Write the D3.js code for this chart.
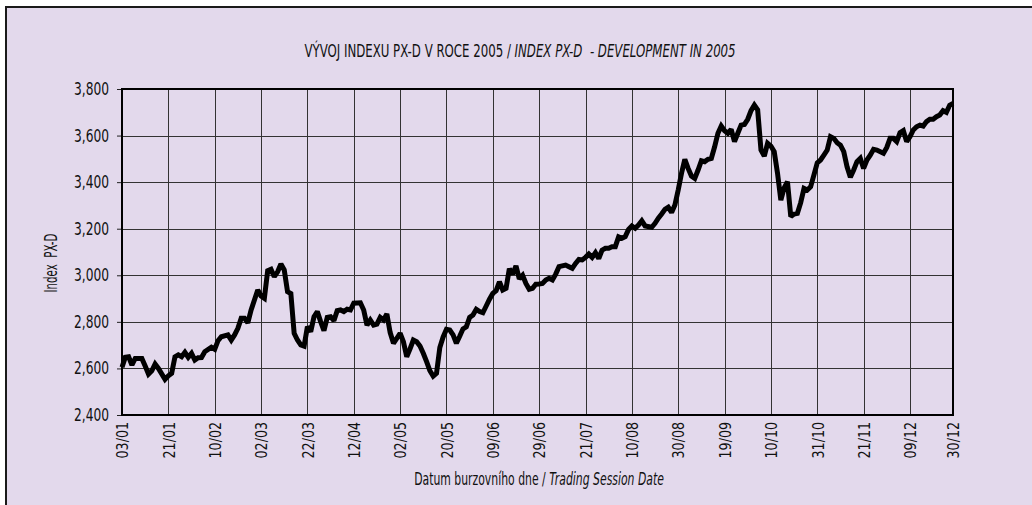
<!DOCTYPE html>
<html>
<head>
<meta charset="utf-8">
<script src="https://cdn.jsdelivr.net/npm/d3@7"></script>
<style>
  html, body { margin: 0; padding: 0; background: #fff; }
  svg text { font-family: "Liberation Sans Narrow", "DejaVu Sans Condensed", "Arial Narrow", sans-serif; fill: #111; }
</style>
</head>
<body>
<svg id="chart" width="1032" height="505"></svg>
<script>
// trading session index (0 = 03/01/2005) and the PX-D close
const sessions = [
  0, 1, 2, 3, 4, 6, 7, 8, 9, 10, 11, 13, 14, 15, 16, 17, 18, 19, 20, 21,
  22, 23, 24, 25, 27, 28, 29, 30, 32, 33, 34, 35, 36, 37, 38, 39, 41, 42, 43, 44,
  45, 46, 47, 48, 49, 50, 51, 52, 53, 54, 55, 56, 57, 58, 59, 60, 61, 62, 63, 64,
  65, 66, 67, 68, 69, 70, 72, 73, 74, 75, 76, 77, 78, 79, 80, 81, 82, 83, 84, 85,
  86, 87, 88, 89, 90, 91, 92, 93, 94, 95, 96, 97, 98, 99, 100, 101, 102, 103, 104, 105,
  106, 107, 108, 109, 110, 111, 112, 113, 114, 115, 116, 117, 118, 119, 120, 121, 122, 123, 124, 125,
  126, 127, 128, 129, 130, 131, 132, 134, 135, 136, 137, 138, 139, 140, 141, 142, 143, 144, 145, 146,
  147, 148, 149, 150, 151, 152, 153, 154, 155, 156, 157, 158, 160, 161, 162, 163, 164, 165, 166, 167,
  168, 169, 170, 171, 172, 173, 174, 175, 176, 177, 178, 179, 180, 181, 182, 183, 184, 185, 186, 187,
  188, 189, 190, 191, 192, 193, 194, 195, 196, 197, 198, 199, 200, 201, 202, 203, 204, 205, 206, 207,
  208, 209, 210, 211, 212, 213, 214, 215, 216, 217, 218, 219, 220, 221, 222, 223, 224, 225, 226, 227,
  228, 230, 231, 232, 233, 234, 235, 236, 237, 238, 239, 240, 241, 242, 243, 244, 245, 246, 247, 248,
  249, 250, 251
];
const pxd = [
  2605, 2648, 2650, 2615, 2643, 2643, 2610, 2576, 2590, 2619, 2600, 2553, 2568, 2579, 2650, 2658, 2650, 2669, 2648, 2665,
  2636, 2646, 2647, 2672, 2691, 2682, 2719, 2736, 2744, 2722, 2744, 2772, 2815, 2815, 2796, 2851, 2937, 2911, 2901, 3020,
  3026, 2994, 3015, 3048, 3023, 2930, 2922, 2751, 2722, 2701, 2696, 2779, 2758, 2822, 2844, 2801, 2762, 2819, 2822, 2805,
  2848, 2851, 2844, 2854, 2851, 2880, 2882, 2851, 2786, 2808, 2786, 2790, 2819, 2808, 2834, 2754, 2708, 2729, 2751, 2715,
  2650, 2684, 2722, 2715, 2696, 2665, 2629, 2590, 2567, 2579, 2690, 2735, 2768, 2765, 2744, 2708, 2738, 2770, 2779, 2819,
  2829, 2854, 2844, 2839, 2868, 2897, 2922, 2934, 2972, 2937, 2944, 3028, 3005, 3040, 2985, 3000, 2965, 2940, 2944, 2962,
  2963, 2965, 2980, 2987, 2980, 3005, 3037, 3044, 3037, 3030, 3051, 3068, 3066, 3077, 3091, 3077, 3097, 3072, 3108, 3116,
  3116, 3123, 3123, 3165, 3159, 3166, 3197, 3212, 3202, 3216, 3234, 3212, 3206, 3223, 3245, 3263, 3283, 3292, 3270, 3302,
  3366, 3438, 3498, 3459, 3426, 3416, 3452, 3492, 3488, 3498, 3502, 3552, 3610, 3641, 3621, 3610, 3627, 3574, 3610, 3645,
  3648, 3670, 3707, 3731, 3710, 3538, 3512, 3567, 3555, 3531, 3438, 3323, 3375, 3402, 3252, 3263, 3266, 3312, 3373, 3366,
  3380, 3431, 3483, 3495, 3516, 3538, 3595, 3588, 3569, 3559, 3531, 3466, 3421, 3452, 3488, 3502, 3459, 3495, 3516, 3541,
  3538, 3524, 3549, 3588, 3588, 3574, 3612, 3621, 3574, 3595, 3624, 3638, 3645, 3641, 3660, 3670, 3670, 3681, 3688, 3707,
  3700, 3730, 3738
];

const tickSessions = [0, 14, 28, 42, 56, 70, 84, 98, 112, 126, 140, 154, 168, 182, 196, 210, 224, 238, 251];
const tickLabels = ["03/01", "21/01", "10/02", "02/03", "22/03", "12/04", "02/05", "20/05", "09/06", "29/06",
  "21/07", "10/08", "30/08", "19/09", "10/10", "31/10", "21/11", "09/12", "30/12"];
const yTicks = [2400, 2600, 2800, 3000, 3200, 3400, 3600, 3800];

const data = sessions.map((s, i) => ({ s: s, v: pxd[i] }));

const svg = d3.select("#chart");
const bg = "#e3d9ec";

const plotL = 122, plotR = 953, plotT = 89, plotB = 415;
const squeeze = 0.8; // the original type is a condensed face

// outer frame
svg.append("rect")
  .attr("x", 6).attr("y", 7)
  .attr("width", 1040).attr("height", 520)
  .attr("fill", bg)
  .attr("stroke", "#1a1a1a")
  .attr("stroke-width", 2);

const x = d3.scaleLinear().domain([0, 251]).range([plotL, plotR]);
const y = d3.scaleLinear().domain([2400, 3800]).range([plotB, plotT]);

// grid
svg.append("g")
  .selectAll("line")
  .data(yTicks.slice(1, -1))
  .join("line")
  .attr("x1", plotL).attr("x2", plotR)
  .attr("y1", d => Math.round(y(d)) + 0.5).attr("y2", d => Math.round(y(d)) + 0.5)
  .attr("stroke", "#333").attr("stroke-width", 1);

svg.append("g")
  .selectAll("line")
  .data(tickSessions.slice(1, -1))
  .join("line")
  .attr("x1", d => Math.round(x(d)) + 0.5).attr("x2", d => Math.round(x(d)) + 0.5)
  .attr("y1", plotT).attr("y2", plotB)
  .attr("stroke", "#333").attr("stroke-width", 1);

// y axis
const yAxis = d3.axisLeft(y)
  .tickValues(yTicks)
  .tickFormat(d3.format(","))
  .tickSize(5);

const gy = svg.append("g").attr("transform", `translate(${plotL},0)`).call(yAxis);
gy.select(".domain").remove();
gy.selectAll("line").attr("stroke", "#222");
gy.selectAll("text")
  .style("font-size", "17px")
  .attr("fill", "#111")
  .attr("x", -13 / squeeze)
  .attr("transform", `scale(${squeeze},1)`);

// x axis labels
const xAxis = d3.axisBottom(x)
  .tickValues(tickSessions)
  .tickFormat((d, i) => tickLabels[i])
  .tickSize(0)
  .tickPadding(0);

const gx = svg.append("g").attr("transform", `translate(0,${plotB})`).call(xAxis);
gx.select(".domain").remove();
gx.selectAll("text")
  .style("font-size", "16px")
  .attr("fill", "#111")
  .attr("text-anchor", "end")
  .attr("transform", "rotate(-90) scale(0.88,1)")
  .attr("x", -7 / 0.88)
  .attr("y", 0)
  .attr("dy", "0.36em");

// plot border
svg.append("rect")
  .attr("x", plotL).attr("y", plotT)
  .attr("width", plotR - plotL).attr("height", plotB - plotT)
  .attr("fill", "none")
  .attr("stroke", "#000")
  .attr("stroke-width", 2);

// series
const line = d3.line().x(d => x(d.s)).y(d => y(d.v));
svg.append("path")
  .datum(data)
  .attr("d", line)
  .attr("fill", "none")
  .attr("stroke", "#000")
  .attr("stroke-width", 5)
  .attr("stroke-linejoin", "miter")
  .attr("stroke-miterlimit", 2);

// title
const title = svg.append("text")
  .attr("transform", "translate(520,57) scale(0.77,1)")
  .attr("text-anchor", "middle")
  .attr("xml:space", "preserve")
  .style("font-size", "17px");
title.append("tspan").text("VÝVOJ INDEXU PX-D V ROCE 2005 / ");
title.append("tspan").style("font-style", "italic").text("INDEX PX-D  - DEVELOPMENT IN 2005");

// axis titles
svg.append("text")
  .attr("transform", "translate(57,263) rotate(-90) scale(0.67,1)")
  .attr("text-anchor", "middle")
  .style("font-size", "17px")
  .attr("xml:space", "preserve")
  .text("Index  PX-D");

const xt = svg.append("text")
  .attr("transform", "translate(539,485) scale(0.71,1)")
  .attr("text-anchor", "middle")
  .style("font-size", "17px");
xt.append("tspan").text("Datum burzovního dne / ");
xt.append("tspan").style("font-style", "italic").text("Trading Session Date");
</script>
</body>
</html>
